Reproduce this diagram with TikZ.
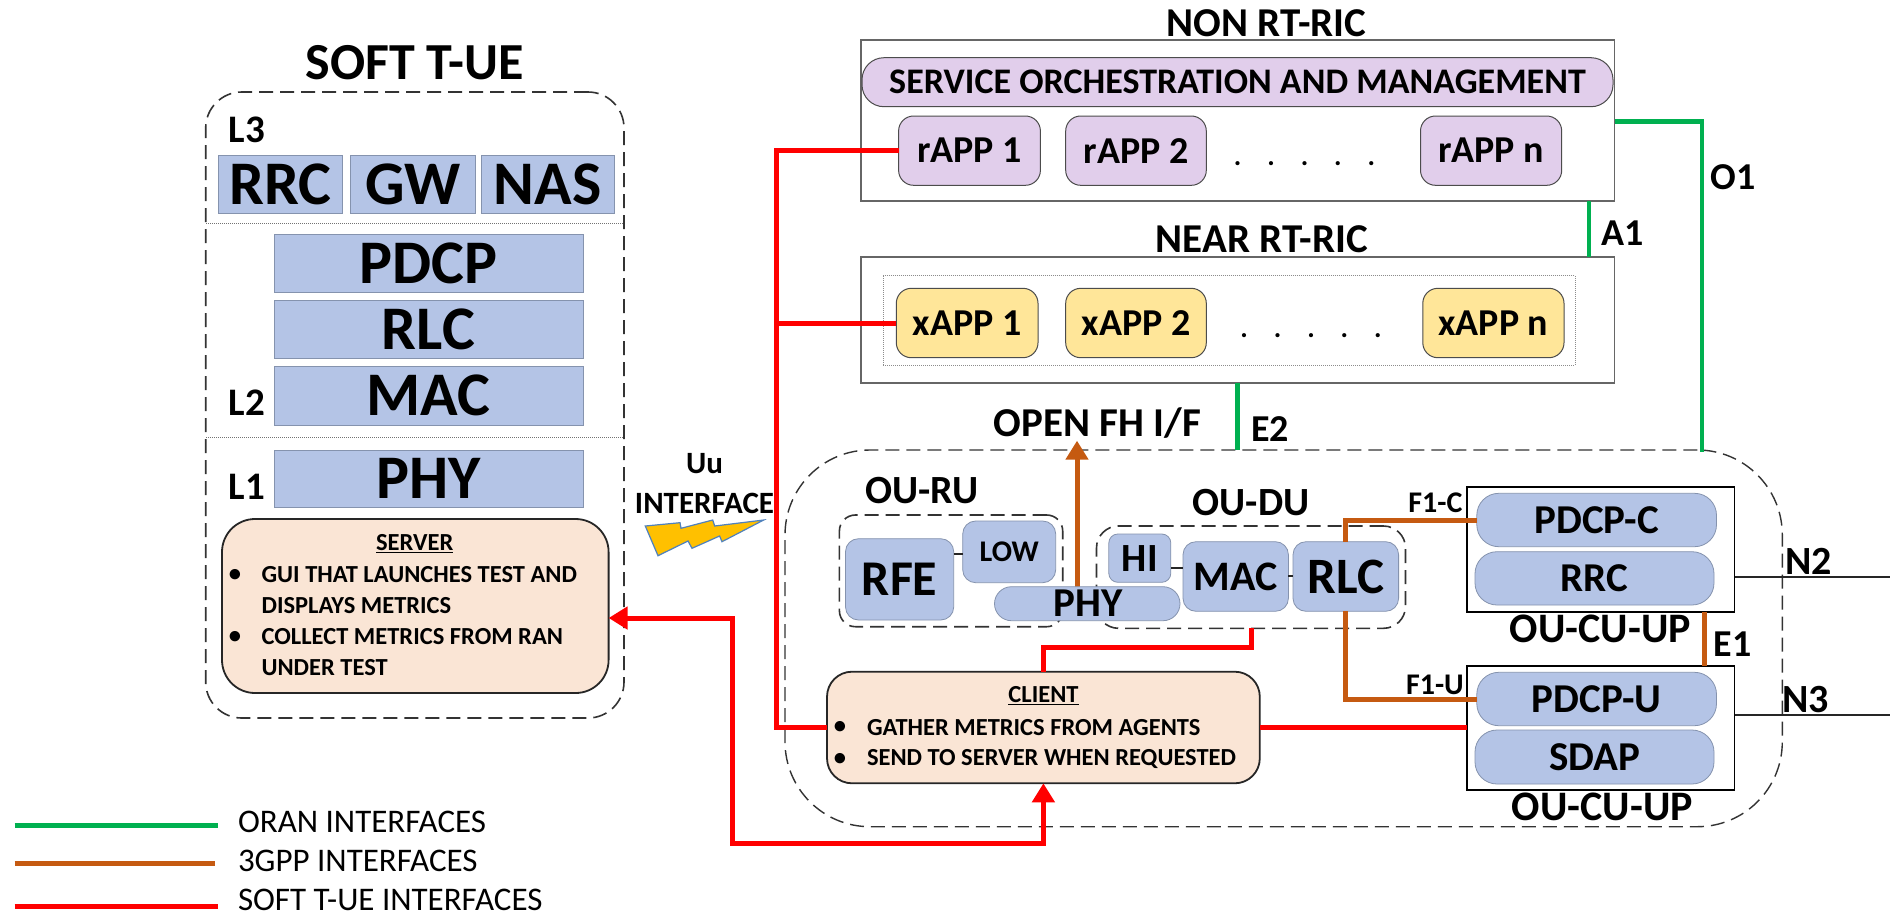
\documentclass[tikz,border=0pt]{standalone}
\usepackage{fontspec}
\setmainfont{Carlito}
\usetikzlibrary{arrows.meta}
\definecolor{boxblue}{HTML}{B4C4E6}
\definecolor{boxedge}{HTML}{8593AE}
\definecolor{peach}{HTML}{FAE5D5}
\definecolor{lilac}{HTML}{E1CEEB}
\definecolor{honey}{HTML}{FFE699}
\definecolor{oran}{HTML}{00B050}
\definecolor{gpp}{HTML}{C55A11}
\definecolor{bolt}{HTML}{FFC000}
\definecolor{boltedge}{HTML}{4F81BD}
\newcommand\fsz[1]{\fontsize{#1}{#1}\selectfont\bfseries}
\newcommand\bx[8]{%
  \pgfmathsetmacro\bxcx{(#3+#5)/2}\pgfmathsetmacro\bxcy{(#4+#6)/2}%
  \pgfmathsetmacro\bxw{#5-#3}\pgfmathsetmacro\bxh{#6-#4}%
  \node[#2,minimum width=\bxw pt,minimum height=\bxh pt,font=\fsz{#7}] (#1) at (\bxcx,\bxcy) {#8};}
\tikzset{
  x=1pt,y=-1pt,
  >={Triangle[length=19pt,width=22pt]},
  every node/.style={inner sep=0pt,outer sep=0pt},
  blueflat/.style={draw=boxedge,line width=0.8pt,fill=boxblue},
  bluesoft/.style={blueflat,rounded corners=13pt},
  bluepill/.style={blueflat,rounded corners=22pt},
  whitebox/.style={draw=black,line width=1.8pt,fill=white},
  softbox/.style={draw=black!85,line width=1.8pt,fill=peach},
  lilacbox/.style={draw=black!70,line width=1pt,fill=lilac,rounded corners=15pt},
  honeybox/.style={draw=black!70,line width=1pt,fill=honey,rounded corners=15pt},
  dashbox/.style={draw=black!80,line width=1.6pt,dash pattern=on 14pt off 7pt},
  txt/.style={font=\fsz{#1}},
  plain/.style={font=\fontsize{#1}{#1}\selectfont},
  redl/.style={draw=red,line width=5pt,line join=miter},
  brownl/.style={draw=gpp,line width=5pt,line join=miter},
  greenl/.style={draw=oran,line width=4.5pt,line join=miter},
  thinl/.style={draw=black!85,line width=1.8pt},
  bulleted/.style={anchor=west,align=left,font=\fontsize{24.5}{31}\selectfont\bfseries},
}
\begin{document}
\begin{tikzpicture}
\useasboundingbox (0,0) rectangle (1890,916);
\fill[white] (0,0) rectangle (1890,916);

% ---- dashed containers
\bx{tue}{dashbox,rounded corners=36pt}{205.7}{92}{624}{718}{10}{}
\bx{ou}{dashbox,line width=1.4pt,rounded corners=85pt}{785}{450}{1782.3}{826.7}{10}{}
\bx{ru}{dashbox,rounded corners=16pt}{839.4}{515}{1062.7}{626.7}{10}{}
\bx{du}{dashbox,rounded corners=22pt}{1096.5}{526}{1405.5}{628.3}{10}{}

% ---- SOFT T-UE stack
\node[txt=52] (tuetitle) at (414.7,63) {SOFT T-UE};
\node[txt=39] (l3) at (247,130) {L3};
\node[txt=39] (l2) at (247,403) {L2};
\node[txt=39] (l1) at (247,486.7) {L1};
\bx{urrc}{blueflat}{218.4}{155}{342.4}{213}{62}{RRC}
\bx{ugw}{blueflat}{350.6}{155}{475}{213}{62}{GW}
\bx{unas}{blueflat}{481}{155}{614}{213}{62}{NAS}
\coordinate (d1a) at (206,223.5); \coordinate (d1b) at (624,223.5);
\coordinate (d2a) at (206,437); \coordinate (d2b) at (624,437);
\draw[black!55,line width=1pt,densely dotted] (d1a) -- (d1b);
\draw[black!55,line width=1pt,densely dotted] (d2a) -- (d2b);
\bx{updcp}{blueflat}{274}{234}{583}{292}{62}{PDCP}
\bx{urlc}{blueflat}{274}{300.7}{583}{358.7}{62}{RLC}
\bx{umac}{blueflat}{274}{366.7}{583}{425}{62}{MAC}
\bx{uphy}{blueflat}{274}{450}{583}{507.7}{62}{PHY}
\bx{server}{softbox,rounded corners=33pt}{222}{519}{608.6}{693}{10}{}
\node[txt=24.5] (srvtitle) at (414.7,544) {\underline{SERVER}};
\node[txt=24.5] (b1) at (235,575) {•};
\node[txt=24.5] (b2) at (235,637) {•};
\node[bulleted] (srv1) at (261.6,590.5) {GUI THAT LAUNCHES TEST AND\\DISPLAYS METRICS};
\node[bulleted] (srv2) at (261.6,652.5) {COLLECT METRICS FROM RAN\\UNDER TEST};

% ---- Uu
\node[txt=31] (uu) at (704.5,464) {Uu};
\node[txt=31] (uuif) at (704.5,503) {INTERFACE};
\draw[fill=bolt,draw=boltedge,line width=1.2pt,line join=miter]
 (645.3,526) -- (680,522.7) -- (681,528.3) -- (712.7,520) -- (714.7,526) -- (763.7,520)
 -- (722,541.7) -- (719.6,536) -- (692,548.3) -- (688,541) -- (658,555.7) -- cycle;

% ---- NON RT-RIC
\node[txt=41] (nontitle) at (1266.6,22.7) {NON RT-RIC};
\bx{non}{whitebox,draw=black!60}{860.8}{40}{1614.5}{201.3}{10}{}
\bx{smo}{lilacbox,rounded corners=22pt}{862}{57.7}{1613}{106.7}{36}{SERVICE ORCHESTRATION AND MANAGEMENT}
\bx{rapp1}{lilacbox}{898.6}{116}{1040.4}{185.3}{38}{rAPP 1}
\bx{rapp2}{lilacbox}{1065.7}{116}{1206.3}{185.3}{38}{rAPP 2}
\bx{rappn}{lilacbox}{1420.5}{116}{1561.7}{185.3}{38}{rAPP n}
\node[txt=28] (rdots) at (1304.5,164) {.\hskip 26pt.\hskip 26pt.\hskip 26pt.\hskip 26pt.};

% ---- NEAR RT-RIC
\node[txt=41] (neartitle) at (1262,239.3) {NEAR RT-RIC};
\bx{near}{whitebox,draw=black!60}{860.8}{256.7}{1614.5}{383.3}{10}{}
\bx{inner}{draw=black!45,line width=1pt,densely dotted}{883}{275.7}{1575}{365}{10}{}
\bx{xapp1}{honeybox}{896.3}{288.3}{1038}{357.7}{38}{xAPP 1}
\bx{xapp2}{honeybox}{1065.7}{288.3}{1206.3}{357.7}{38}{xAPP 2}
\bx{xappn}{honeybox}{1422.8}{288.3}{1564}{357.7}{38}{xAPP n}
\node[txt=28] (xdots) at (1311,336) {.\hskip 26pt.\hskip 26pt.\hskip 26pt.\hskip 26pt.};

% ---- O-RU / O-DU
\node[txt=41] (fh) at (1097.5,423) {OPEN FH I/F};
\node[txt=40] (rulabel) at (921.8,491) {OU-RU};
\node[txt=40] (dulabel) at (1251,502.7) {OU-DU};
\coordinate (fhb) at (1077,587); \coordinate (fht) at (1077,440.7);
\draw[brownl,->] (fhb) -- (fht);
\bx{rfe}{bluesoft}{845.5}{538.7}{953.7}{620}{50}{RFE}
\bx{low}{bluesoft}{962.7}{521}{1055.7}{582.7}{30}{LOW}
\bx{hi}{bluesoft,rounded corners=9pt}{1108.8}{534}{1170.8}{582.3}{40}{HI}
\bx{phy}{bluesoft,rounded corners=17pt}{994.5}{586.7}{1180}{620.7}{41}{}
\node[txt=41] (phytext) at (1088,603) {PHY};
\bx{mac}{bluesoft}{1183}{541.7}{1288.4}{611.3}{42}{MAC}
\bx{rlc}{bluesoft}{1293}{541.7}{1398.6}{611.3}{51}{RLC}
\coordinate (rl1) at (953.7,554); \coordinate (rl2) at (962.7,554);
\coordinate (hm1) at (1170.8,568); \coordinate (hm2) at (1183,568);
\coordinate (mr1) at (1288.4,576); \coordinate (mr2) at (1293,576);
\draw[thinl] (rl1) -- (rl2);
\draw[thinl] (hm1) -- (hm2);
\draw[thinl] (mr1) -- (mr2);

% ---- client
\bx{client}{softbox,rounded corners=25pt}{827}{671.7}{1259.8}{783.3}{10}{}
\node[txt=24.5] (clititle) at (1043.5,696) {\underline{CLIENT}};
\node[txt=24.5] (b3) at (840,727.7) {•};
\node[txt=24.5] (b4) at (840,759) {•};
\node[bulleted] (cli1) at (867,727.7) {GATHER METRICS FROM AGENTS};
\node[bulleted] (cli2) at (867,759) {SEND TO SERVER WHEN REQUESTED};

% ---- O-CU
\bx{cuc}{whitebox}{1466.7}{487.3}{1734.5}{611.7}{10}{}
\bx{cuu}{whitebox}{1466.7}{666}{1734.5}{790}{10}{}
\bx{pdcpc}{bluepill}{1476.8}{493.3}{1716.5}{546.7}{41}{PDCP-C}
\bx{rrc}{bluepill}{1475}{551.7}{1714}{605}{41}{RRC}
\bx{pdcpu}{bluepill}{1476.8}{672.3}{1716.5}{725.7}{41}{PDCP-U}
\bx{sdap}{bluepill}{1475}{730}{1714}{784}{41}{SDAP}
\node[txt=42] (cul1) at (1600.4,629) {OU-CU-UP};
\node[txt=42] (cul2) at (1602.3,807.3) {OU-CU-UP};
\node[txt=30] (f1c) at (1435.4,503) {F1-C};
\node[txt=30] (f1u) at (1434.9,685) {F1-U};
\node[txt=38] (e1l) at (1732.7,644) {E1};
\node[txt=38] (e2l) at (1270,429) {E2};
\node[txt=38] (a1l) at (1622.5,233) {A1};
\node[txt=38] (o1l) at (1733,177) {O1};
\node[txt=40] (n2l) at (1808.8,561) {N2};
\node[txt=40] (n3l) at (1805.4,700) {N3};

% ---- connectors
\coordinate (trunk) at (776.7,727.5);
\draw[redl] (rapp1.west) -| (trunk) -- (client.west);
\draw[redl] (xapp1.west) -- (xapp1.west -| trunk);
\draw[redl] (client.east) -- (client.east -| cuu.west);
\coordinate (dumid) at (1251.6,647);
\draw[redl] (du.south) -- (du.south |- dumid) -| (client.north);
\coordinate (srvin) at (608.6,618);
\coordinate (loop) at (732,843);
\draw[redl,<->] (srvin) -| (loop) -| (client.south);

\draw[brownl] (rlc.north) |- (pdcpc.west);
\draw[brownl] (rlc.south) |- (pdcpu.west);
\coordinate (e1x) at (1704.4,611.7);
\draw[brownl] (e1x) -- (e1x |- cuu.north);

\coordinate (o1a) at (1614.5,121.7);
\coordinate (o1b) at (1701.8,451.5);
\draw[greenl] (o1a) -| (o1b);
\coordinate (a1x) at (1589,201.3);
\draw[greenl] (a1x) -- (a1x |- near.north);
\draw[greenl] (near.south) -- (near.south |- ou.north);

\coordinate (n2e) at (1890,577.3);
\coordinate (n3e) at (1890,715);
\draw[thinl] (cuc.east |- n2e) -- (n2e);
\draw[thinl] (cuu.east |- n3e) -- (n3e);

% ---- legend
\coordinate (lg1a) at (14.5,825.7); \coordinate (lg1b) at (218.4,825.7);
\coordinate (lg2a) at (14.5,863.7); \coordinate (lg2b) at (214.7,863.7);
\coordinate (lg3a) at (14.5,906); \coordinate (lg3b) at (218.4,906);
\draw[greenl] (lg1a) -- (lg1b);
\draw[brownl] (lg2a) -- (lg2b);
\draw[redl] (lg3a) -- (lg3b);
\node[plain=33,anchor=west] (lt1) at (238,821.7) {ORAN INTERFACES};
\node[plain=33,anchor=west] (lt2) at (238,861) {3GPP INTERFACES};
\node[plain=33,anchor=west] (lt3) at (238,900) {SOFT T-UE INTERFACES};
\end{tikzpicture}
\end{document}
